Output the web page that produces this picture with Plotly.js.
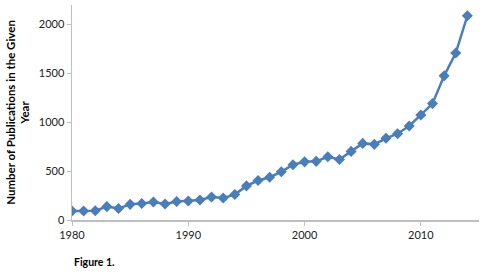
<!DOCTYPE html>
<html>
<head>
<meta charset="utf-8">
<script src="https://cdn.plot.ly/plotly-3.0.1.min.js"></script>
<style>html,body{margin:0;padding:0;background:#fff;}#chart{width:500px;height:274px;}</style>
</head>
<body>
<div id="chart"></div>
<script>
const years = [1980,1981,1982,1983,1984,1985,1986,1987,1988,1989,1990,1991,1992,1993,1994,1995,1996,1997,1998,1999,2000,2001,2002,2003,2004,2005,2006,2007,2008,2009,2010,2011,2012,2013,2014];
const publications = [92,92,95,137,117,160,168,185,164,189,195,205,235,225,260,349,404,438,493,565,595,600,647,620,702,784,774,836,883,962,1075,1191,1475,1708,2090];
const xTicks = [1980,1990,2000,2010];
const yTicks = [0,500,1000,1500,2000];
const yTitle = "<b>Number of Publications in the Given<br>Year</b>";
const caption = "<b>Figure 1.</b>";

const trace = {
  x: years, y: publications, type: 'scatter', mode: 'lines+markers',
  line: {color: '#4a7ebb', width: 2.5},
  marker: {symbol: 'diamond', size: 8.5, color: '#4a7ebb'},
  hoverinfo: 'skip'
};
const layout = {
  width: 500, height: 274,
  margin: {l: 72, r: 21, t: 5, b: 54},
  paper_bgcolor: '#fff', plot_bgcolor: '#fff',
  font: {family: 'Lato, "Open Sans", sans-serif', size: 11, color: '#222'},
  showlegend: false,
  xaxis: {
    range: [1980, 2015], tickvals: xTicks, ticktext: xTicks.map(String),
    showgrid: false, zeroline: false, showline: true, linecolor: '#bfbfbf', linewidth: 1.5,
    ticks: 'outside', ticklen: 4, tickcolor: '#bfbfbf', tickfont: {size: 11, color: '#222'}
  },
  yaxis: {
    range: [0, 2200], tickvals: yTicks, ticktext: yTicks.map(String),
    showgrid: false, zeroline: false, showline: true, linecolor: '#bfbfbf', linewidth: 1.5,
    ticks: 'outside', ticklen: 4, tickcolor: '#bfbfbf', tickfont: {size: 11, color: '#222'},
    title: {text: yTitle, font: {size: 11.5, color: '#000', weight: 'bold'}, standoff: 6}
  },
  annotations: [{
    text: caption, xref: 'paper', yref: 'paper', x: 0, y: -0.195,
    xanchor: 'left', yanchor: 'middle', showarrow: false,
    font: {size: 10.5, color: '#000'}
  }]
};
Plotly.newPlot('chart', [trace], layout, {staticPlot: true, displayModeBar: false});
</script>
</body>
</html>
